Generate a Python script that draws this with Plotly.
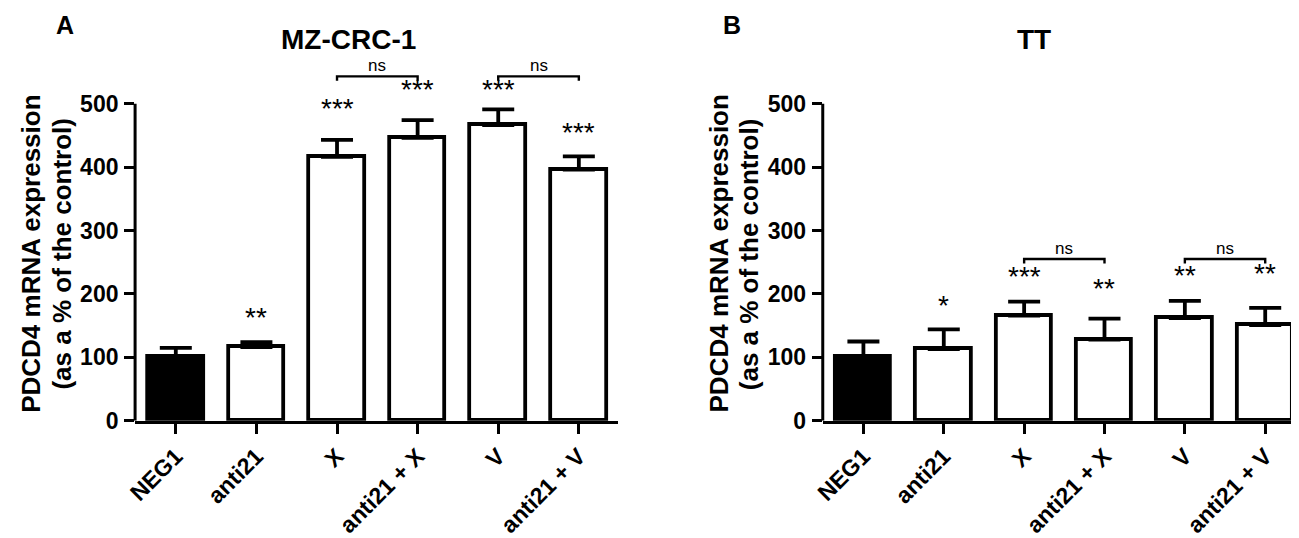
import plotly.graph_objects as go

# groups on the x axis
categories = ["NEG1", "anti21", "X", "anti21 + X", "V", "anti21 + V"]

# MZ-CRC-1 (panel A), mean and upper error (SEM) in % of control
mz_mean = [100, 116, 416, 446, 466, 396]
mz_err = [15, 8, 27, 28, 25, 21]
mz_stars = ["", "**", "***", "***", "***", "***"]
mz_star_y = [None, 163, 492, 523, 522, 454]

# TT (panel B)
tt_mean = [101, 113, 166, 128, 162, 151]
tt_err = [24, 31, 22, 33, 27, 27]
tt_stars = ["", "*", "***", "**", "**", "**"]
tt_star_y = [None, 182, 228, 209, 229, 232]

# "ns" comparisons: (left group, right group)
ns_pairs = [(2, 3), (4, 5)]
mz_ns_y = 543
tt_ns_y = 255

y_ticks = [0, 100, 200, 300, 400, 500]
ytitle_lines = ["PDCD4 mRNA expression", "(as a % of the control)"]
bar_colors = ["black", "white", "white", "white", "white", "white"]
idx = list(range(len(categories)))
W, H = 1299, 538
FONT = "Liberation Sans, Arial, sans-serif"

fig = go.Figure()


def add_panel(fig, mean, err, xa, ya):
    fig.add_trace(go.Bar(
        x=idx, y=mean, width=0.69,
        marker=dict(color=bar_colors, line=dict(color="black", width=3.8)),
        error_y=dict(type="data", symmetric=False, array=err,
                     arrayminus=[0] * len(err), width=16, thickness=3.8,
                     color="black"),
        xaxis=xa, yaxis=ya, showlegend=False))


add_panel(fig, mz_mean, mz_err, "x", "y")
add_panel(fig, tt_mean, tt_err, "x2", "y2")

# y range goes past 500 so the stars and brackets above the axis are drawn;
# the axis line itself stops at 500 (drawn as a shape below)
ydom = [1 - 423 / H, 1 - 46 / H]
common_x = dict(showline=True, linewidth=3, linecolor="black", ticks="outside",
                ticklen=10, tickwidth=3, tickcolor="black", tickvals=idx,
                ticktext=categories, tickangle=-45, showgrid=False,
                zeroline=False,
                tickfont=dict(family=FONT, size=23, color="black", weight="bold"))
common_y = dict(range=[0, 580], tickvals=y_ticks, showline=False,
                ticks="outside", ticklen=10, tickwidth=3,
                tickcolor="black", showgrid=False, zeroline=False,
                domain=ydom, ticklabelstandoff=1,
                tickfont=dict(family=FONT, size=23, color="black", weight="bold"))

fig.update_layout(
    width=W, height=H, margin=dict(l=0, r=0, t=0, b=0),
    plot_bgcolor="white", paper_bgcolor="white", bargap=0,
    xaxis=dict(common_x, domain=[118 / W, 605 / W], range=[-0.505, 5.49],
               anchor="y"),
    yaxis=dict(common_y, anchor="x"),
    xaxis2=dict(common_x, domain=[811 / W, 1.0], range=[-0.506, 5.52],
                anchor="y2"),
    yaxis2=dict(common_y, anchor="x2"),
)

for xr, yr in [("x", "y"), ("x2", "y2")]:
    # y axis line from 0 to the top tick
    fig.add_shape(type="line", xref=f"{xr} domain", yref=yr, x0=0, x1=0,
                  y0=y_ticks[0], y1=y_ticks[-1],
                  line=dict(color="black", width=3))

# significance stars
for stars, sy, xr, yr in [(mz_stars, mz_star_y, "x", "y"),
                          (tt_stars, tt_star_y, "x2", "y2")]:
    for i, s in enumerate(stars):
        if s:
            fig.add_annotation(x=i, y=sy[i], xref=xr, yref=yr, text=s,
                               showarrow=False, yanchor="middle",
                               xanchor="center",
                               font=dict(family=FONT, size=28, color="black"))

# ns brackets
for ny, xr, yr in [(mz_ns_y, "x", "y"), (tt_ns_y, "x2", "y2")]:
    for a, b in ns_pairs:
        fig.add_shape(type="path", xref=xr, yref=yr,
                      path=f"M {a},{ny - 7} L {a},{ny} L {b},{ny} L {b},{ny - 7}",
                      line=dict(color="black", width=2.4))
        fig.add_annotation(x=(a + b) / 2, y=ny + 17, xref=xr, yref=yr,
                           text="ns", showarrow=False, yanchor="middle",
                           xanchor="center",
                           font=dict(family=FONT, size=17, color="black"))

# panel letters, titles and y-axis titles
for letter, lx, title, tx, ax in [("A", 47, "MZ-CRC-1", 333, 118),
                                  ("B", 720, "TT", 1024, 811)]:
    fig.add_annotation(x=lx / W, y=1 - 17 / H, xref="paper", yref="paper",
                       text=f"<b>{letter}</b>", showarrow=False,
                       xanchor="center", yanchor="middle",
                       font=dict(family=FONT, size=25, color="black"))
    fig.add_annotation(x=tx / W, y=1 - 32 / H, xref="paper", yref="paper",
                       text=f"<b>{title}</b>", showarrow=False,
                       xanchor="center", yanchor="middle",
                       font=dict(family=FONT, size=28, color="black"))
    for k, line in enumerate(ytitle_lines):
        fig.add_annotation(x=(ax - 105 + 31 * k) / W, y=1 - 252 / H,
                           xref="paper", yref="paper", text=f"<b>{line}</b>",
                           showarrow=False, textangle=-90, xanchor="center",
                           yanchor="middle",
                           font=dict(family=FONT, size=26, color="black"))

fig.write_html("out.html")
